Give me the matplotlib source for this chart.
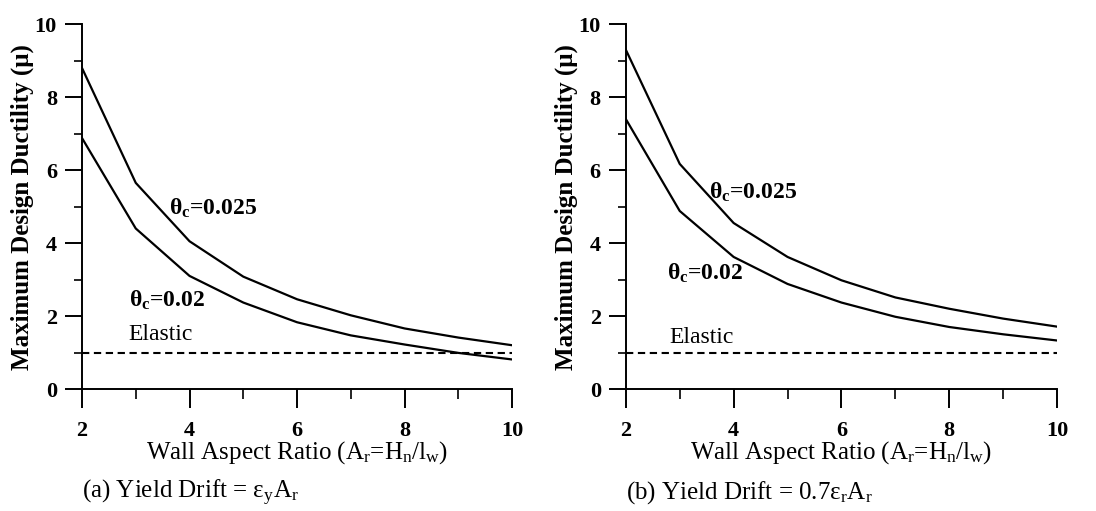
import numpy as np
import matplotlib
matplotlib.use("Agg")
import matplotlib.pyplot as plt
from matplotlib.ticker import MultipleLocator

plt.rcParams["font.family"] = ["Liberation Serif", "DejaVu Serif"]
plt.rcParams["mathtext.fontset"] = "custom"
plt.rcParams["mathtext.rm"] = "Liberation Serif"
plt.rcParams["mathtext.it"] = "Liberation Serif:italic"
plt.rcParams["mathtext.bf"] = "Liberation Serif:bold"

# wall aspect ratio
aspect = [2, 3, 4, 5, 6, 7, 8, 9, 10]

# (a) yield drift = eps_y * Ar
duct_a_025 = [8.8, 5.65, 4.05, 3.08, 2.46, 2.02, 1.66, 1.41, 1.2]
duct_a_020 = [6.88, 4.4, 3.1, 2.37, 1.83, 1.47, 1.22, 0.99, 0.81]

# (b) yield drift = 0.7 * eps_r * Ar
duct_b_025 = [9.3, 6.17, 4.55, 3.62, 2.98, 2.51, 2.2, 1.93, 1.71]
duct_b_020 = [7.4, 4.88, 3.62, 2.88, 2.37, 1.98, 1.7, 1.5, 1.33]

elastic = [1.0] * len(aspect)

captions = [r"(a) Yield Drift = ε$_{\rm y}$A$_{\rm r}$",
            r"(b) Yield Drift = 0.7ε$_{\rm r}$A$_{\rm r}$"]

# label positions (data coords) for each panel
label_pos = [
    {"025": (3.62, 4.95), "020": (2.88, 2.42), "el": (2.86, 1.5)},
    {"025": (3.55, 5.4), "020": (2.76, 3.18), "el": (2.8, 1.42)},
]

fig = plt.figure(figsize=(10.96, 5.11), dpi=100)
ax_a = fig.add_axes([0.0748, 0.2387, 0.3925, 0.714])
ax_b = fig.add_axes([0.571, 0.2387, 0.3935, 0.714])

series = [(duct_a_025, duct_a_020), (duct_b_025, duct_b_020)]

for i, (ax, (s025, s020)) in enumerate(zip([ax_a, ax_b], series)):
    ax.plot(aspect, s025, color="black", lw=1.6)
    ax.plot(aspect, s020, color="black", lw=1.6)
    ax.plot(aspect, elastic, color="black", lw=1.5, ls=(0, (3.5, 2.2)))

    ax.set_xlim(2, 10)
    ax.set_ylim(0, 10)
    ax.xaxis.set_major_locator(MultipleLocator(2))
    ax.xaxis.set_minor_locator(MultipleLocator(1))
    ax.yaxis.set_major_locator(MultipleLocator(2))
    ax.yaxis.set_minor_locator(MultipleLocator(1))
    ax.spines["top"].set_visible(False)
    ax.spines["right"].set_visible(False)
    for s in ["left", "bottom"]:
        ax.spines[s].set_linewidth(1.4)
    ax.tick_params(axis="x", which="major", direction="out", length=14, width=1.4, pad=9,
                   labelsize=16)
    ax.tick_params(axis="x", which="minor", direction="out", length=7, width=1.2)
    ax.tick_params(axis="y", which="major", direction="out", length=12, width=1.4, pad=6,
                   labelsize=16)
    ax.tick_params(axis="y", which="minor", direction="out", length=6, width=1.2)
    for lab in ax.get_xticklabels() + ax.get_yticklabels():
        lab.set_fontweight("bold")
    ax.patch.set_visible(False)

    ax.set_ylabel("Maximum Design Ductility (μ)", fontsize=18, fontweight="bold")
    ax.yaxis.set_label_coords(-0.112, 0.5)
    ax.set_xlabel(r"Wall Aspect Ratio (A$_{\rm r}$=H$_{\rm n}$/l$_{\rm w}$)", fontsize=18)
    ax.xaxis.label.set_va("center")
    ax.xaxis.set_label_coords(0.5, -0.175)

    lp = label_pos[i]
    ax.text(*lp["025"], r"θ$_{\bf c}$=0.025", fontsize=17, fontweight="bold", va="center")
    ax.text(*lp["020"], r"θ$_{\bf c}$=0.02", fontsize=17, fontweight="bold", va="center")
    ax.text(*lp["el"], "Elastic", fontsize=17, va="center")

    ax.text(0.0, -0.285, captions[i], transform=ax.transAxes, fontsize=18,
            ha="left", va="center")

fig.savefig("out.png", dpi=100)
